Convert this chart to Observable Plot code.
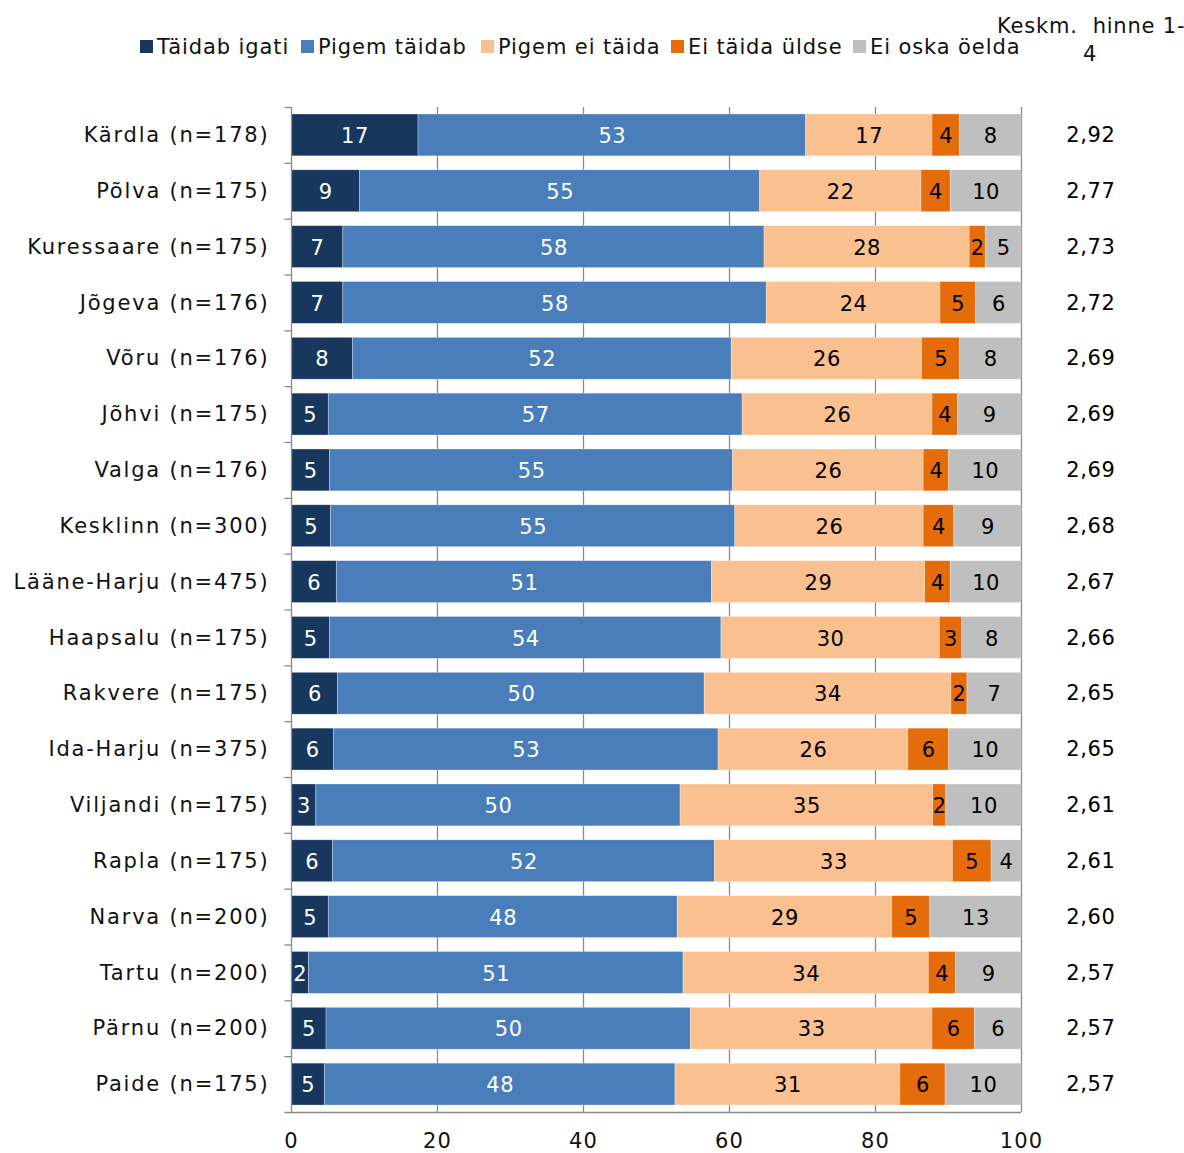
<!DOCTYPE html>
<html>
<head>
<meta charset="utf-8">
<script src="https://cdn.jsdelivr.net/npm/d3@7"></script>
<script src="https://cdn.jsdelivr.net/npm/@observablehq/plot@0.6"></script>
<style>
  body { margin: 0; background: #fff; font-family: "DejaVu Sans", Verdana, sans-serif; }
  #wrap { position: relative; width: 1184px; height: 1153px; }
  .leg { position: absolute; top: 34px; font-size: 21px; letter-spacing: 0.9px; color: #111; white-space: nowrap; line-height: 26px; }
  .sw { position: absolute; top: 40px; width: 13px; height: 13px; }
  .hdr { position: absolute; font-size: 21px; letter-spacing: 0.8px; color: #111; white-space: pre; line-height: 26px; }
  svg { position: absolute; left: 0; top: 0; }
  .ylab text { letter-spacing: 1.8px; }
  .xlab text { letter-spacing: 1.2px; }
  .num text { letter-spacing: 0.6px; }
</style>
</head>
<body>
<div id="wrap"></div>
<script>
const regions = ["Kärdla (n=178)","Põlva (n=175)","Kuressaare (n=175)","Jõgeva (n=176)","Võru (n=176)","Jõhvi (n=175)","Valga (n=176)","Kesklinn (n=300)","Lääne-Harju (n=475)","Haapsalu (n=175)","Rakvere (n=175)","Ida-Harju (n=375)","Viljandi (n=175)","Rapla (n=175)","Narva (n=200)","Tartu (n=200)","Pärnu (n=200)","Paide (n=175)"];
const series = ["Täidab igati","Pigem täidab","Pigem ei täida","Ei täida üldse","Ei oska öelda"];
const colors = ["#17375E","#4A7EBB","#FAC090","#E46C0A","#BFBFBF"];
const taidabIgati   = [17.4, 9.4, 7.1, 7.1, 8.4, 5.1, 5.3, 5.4, 6.2, 5.3, 6.4, 5.8, 3.4, 5.7, 5.1, 2.4, 4.8, 4.6];
const pigemTaidab   = [53.1, 54.8, 57.7, 58.0, 51.9, 56.7, 55.2, 55.4, 51.4, 53.6, 50.2, 52.7, 49.9, 52.3, 47.8, 51.3, 49.9, 48.0];
const pigemEiTaida  = [17.3, 22.1, 28.1, 23.8, 26.1, 26.0, 26.1, 25.8, 29.2, 29.9, 33.8, 26.0, 34.6, 32.6, 29.4, 33.6, 33.1, 30.8];
const eiTaidaYldse  = [3.8, 4.0, 2.2, 4.9, 5.2, 3.5, 3.5, 4.2, 3.5, 3.1, 2.2, 5.6, 1.8, 5.3, 5.2, 3.7, 5.8, 6.2];
const eiOskaOelda   = [8.4, 9.7, 4.9, 6.2, 8.4, 8.7, 9.9, 9.2, 9.7, 8.1, 7.4, 9.9, 10.3, 4.1, 12.5, 9.0, 6.4, 10.4];
const means = ["2,92","2,77","2,73","2,72","2,69","2,69","2,69","2,68","2,67","2,66","2,65","2,65","2,61","2,61","2,60","2,57","2,57","2,57"];
const xTicks = [0, 20, 40, 60, 80, 100];
const meanHeader = ["Keskm.  hinne 1-", "4"];

const cols = [taidabIgati, pigemTaidab, pigemEiTaida, eiTaidaYldse, eiOskaOelda];
const data = regions.flatMap((r, i) => series.map((s, j) => ({region: r, series: s, value: cols[j][i], idx: j})));
const meanData = regions.map((r, i) => ({region: r, mean: means[i]}));

const font = "DejaVu Sans, Verdana, sans-serif";
const W = 1184, H = 1153, mL = 291, mR = 163, mT = 107, mB = 41;
const step = (H - mT - mB) / 18;
const grey = "#8a8a8a";

const chart = Plot.plot({
  width: W, height: H,
  marginLeft: mL, marginRight: mR, marginTop: mT, marginBottom: mB,
  style: {fontFamily: font, fontSize: "21px", color: "#111", background: "transparent"},
  x: {domain: [0, 100]},
  y: {domain: regions, paddingInner: 0.25, paddingOuter: 0.125, round: false},
  color: {domain: series, range: colors},
  marks: [
    Plot.ruleX(xTicks.slice(1), {stroke: grey, strokeWidth: 1.3}),
    Plot.barX(data, Plot.stackX({x: "value", y: "region", fill: "series", order: series, stroke: "#ffffff", strokeWidth: 0.6, strokeOpacity: 0.5})),
    Plot.textX(data, Plot.stackX({x: "value", y: "region", z: "series", order: series, text: d => d.idx < 2 ? Math.round(d.value) : "", fill: "white", fontSize: 21, className: "num", dy: 1})),
    Plot.textX(data, Plot.stackX({x: "value", y: "region", z: "series", order: series, text: d => d.idx >= 2 ? Math.round(d.value) : "", fill: "black", fontSize: 21, className: "num", dy: 1})),
    Plot.ruleX([0], {stroke: grey, strokeWidth: 1.3}),
    Plot.ruleY(regions, {y: d => d, dy: -step / 2, x1: -0.9, x2: 0, stroke: grey, strokeWidth: 1.3}),
    Plot.ruleY([regions[regions.length - 1]], {y: d => d, dy: step / 2, x1: -0.9, x2: 100, stroke: grey, strokeWidth: 1.3}),
    Plot.tickX(xTicks, {x: d => d, y: regions[regions.length - 1], dy: step / 2 + 3, stroke: grey, strokeWidth: 1.3}),
    Plot.axisX({ticks: xTicks, tickSize: 0, tickPadding: 21, fontSize: 21, label: null, tickFormat: d => d, className: "xlab"}),
    Plot.axisY({tickSize: 0, tickPadding: 22, fontSize: 21, label: null, className: "ylab"}),
    Plot.text(meanData, {x: () => 109.5, y: "region", text: "mean", fontSize: 21, textAnchor: "middle", fill: "black", className: "num"})
  ]
});

const wrap = document.getElementById("wrap");
wrap.appendChild(chart);

// Legend (HTML)
const legPos = [140, 301, 481, 671, 853];
series.forEach((s, i) => {
  const sw = document.createElement("div");
  sw.className = "sw";
  sw.style.left = legPos[i] + "px";
  sw.style.background = colors[i];
  wrap.appendChild(sw);
  const t = document.createElement("div");
  t.className = "leg";
  t.style.left = (legPos[i] + 17) + "px";
  t.textContent = s;
  wrap.appendChild(t);
});
const h1 = document.createElement("div");
h1.className = "hdr"; h1.style.left = "997px"; h1.style.top = "13px";
h1.textContent = meanHeader[0];
wrap.appendChild(h1);
const h2 = document.createElement("div");
h2.className = "hdr"; h2.style.left = "1083px"; h2.style.top = "41px";
h2.textContent = meanHeader[1];
wrap.appendChild(h2);
</script>
</body>
</html>
